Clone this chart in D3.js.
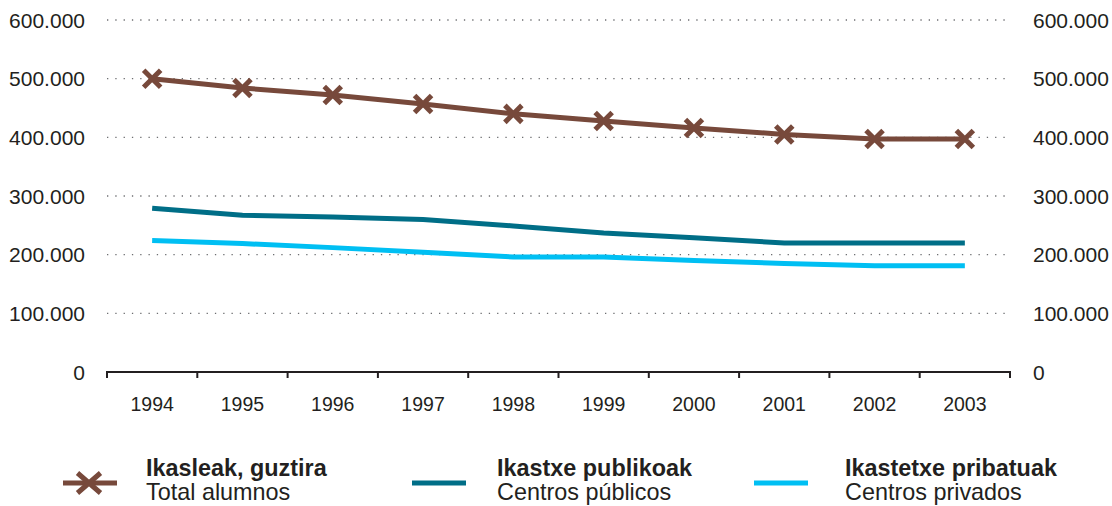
<html>
<head>
<script src="https://cdn.jsdelivr.net/npm/d3@7"></script>
<style>
  body { margin: 0; background: #fff; }
  text { font-family: "Liberation Sans", Arial, sans-serif; fill: #231f20; }
</style>
</head>
<body>
<svg id="chart" width="1112" height="506"></svg>
<script>
// data
const years = ["1994","1995","1996","1997","1998","1999","2000","2001","2002","2003"]
const totalStudents = [500000, 484000, 472000, 457000, 440000, 428000, 416000, 405000, 397000, 397000]
const publicCentres = [279000, 267000, 264000, 260000, 249000, 237000, 229000, 220000, 220000, 220000]
const privateCentres = [224000, 219000, 212000, 204000, 196000, 196000, 190000, 185000, 181000, 181000]
const yTicks = [0, 100000, 200000, 300000, 400000, 500000, 600000]
const legendItems = [
  { bold: "Ikasleak, guztira", sub: "Total alumnos", color: "#77493b", marker: true },
  { bold: "Ikastxe publikoak", sub: "Centros públicos", color: "#006e87", marker: false },
  { bold: "Ikastetxe pribatuak", sub: "Centros privados", color: "#00bff3", marker: false }
]

const MARGIN = { left: 107, right: 102, top: 20, plotBottom: 372 }
const W = 1112
const svg = d3.select("#chart")

const x = d3.scaleBand().domain(years).range([MARGIN.left, W - MARGIN.right])
const y = d3.scaleLinear().domain([0, 600000]).range([MARGIN.plotBottom, MARGIN.top])
const fmt = v => v === 0 ? "0" : d3.format(",")(v).replace(/,/g, ".")

// gridlines (dotted)
svg.append("g").selectAll("line")
  .data(yTicks.filter(d => d > 0))
  .enter().append("line")
    .attr("x1", MARGIN.left).attr("x2", W - MARGIN.right)
    .attr("y1", d => y(d)).attr("y2", d => y(d))
    .attr("stroke", "#6d6e71").attr("stroke-width", 1.3)
    .attr("stroke-dasharray", "1.3,7")

// y labels both sides
svg.append("g").selectAll("text")
  .data(yTicks).enter().append("text")
    .attr("x", 85).attr("y", d => y(d)).attr("dy", "0.36em")
    .attr("text-anchor", "end").attr("font-size", 21)
    .text(fmt)
svg.append("g").selectAll("text")
  .data(yTicks).enter().append("text")
    .attr("x", 1033).attr("y", d => y(d)).attr("dy", "0.36em")
    .attr("text-anchor", "start").attr("font-size", 21)
    .text(fmt)

// x axis
const xAxis = svg.append("g")
  .attr("transform", `translate(0,${MARGIN.plotBottom})`)
xAxis.append("line")
  .attr("x1", MARGIN.left).attr("x2", W - MARGIN.right)
  .attr("stroke", "#231f20").attr("stroke-width", 2)
xAxis.selectAll(".tk")
  .data(years.concat(["end"])).enter().append("line")
    .attr("x1", d => d === "end" ? x.range()[1] : x(d))
    .attr("x2", d => d === "end" ? x.range()[1] : x(d))
    .attr("y1", -1).attr("y2", 6)
    .attr("stroke", "#231f20").attr("stroke-width", 2)
xAxis.selectAll("text")
  .data(years).enter().append("text")
    .attr("x", d => x(d) + x.bandwidth() / 2).attr("y", 39)
    .attr("text-anchor", "middle").attr("font-size", 19.5)
    .text(d => d)

const cx = d => x(d) + x.bandwidth() / 2
const line = vals => d3.line().x((d, i) => cx(years[i])).y(d => y(d))(vals)

svg.append("path").attr("d", line(privateCentres))
  .attr("fill", "none").attr("stroke", "#00bff3").attr("stroke-width", 5)
svg.append("path").attr("d", line(publicCentres))
  .attr("fill", "none").attr("stroke", "#006e87").attr("stroke-width", 5)
svg.append("path").attr("d", line(totalStudents))
  .attr("fill", "none").attr("stroke", "#77493b").attr("stroke-width", 5)

const cross = (g, px, py, sx, sy) => {
  g.append("path")
    .attr("d", `M${px - sx},${py - sy}L${px + sx},${py + sy}M${px - sx},${py + sy}L${px + sx},${py - sy}`)
    .attr("stroke", "#77493b").attr("stroke-width", 5).attr("fill", "none")
}
const markers = svg.append("g")
totalStudents.forEach((v, i) => cross(markers, cx(years[i]), y(v), 8.5, 8.5))

// legend
const legendX = [63, 412, 754]
const legendTextX = [146, 497, 845]
legendItems.forEach((it, i) => {
  const g = svg.append("g")
  g.append("line")
    .attr("x1", legendX[i]).attr("x2", legendX[i] + 54)
    .attr("y1", 483).attr("y2", 483)
    .attr("stroke", it.color).attr("stroke-width", 5)
  if (it.marker) cross(g, legendX[i] + 26, 483, 11.5, 10)
  g.append("text").attr("x", legendTextX[i]).attr("y", 476)
    .attr("font-size", 23.4).attr("font-weight", "bold").text(it.bold)
  g.append("text").attr("x", legendTextX[i]).attr("y", 500)
    .attr("font-size", 23.4).text(it.sub)
})
</script>
</body>
</html>
